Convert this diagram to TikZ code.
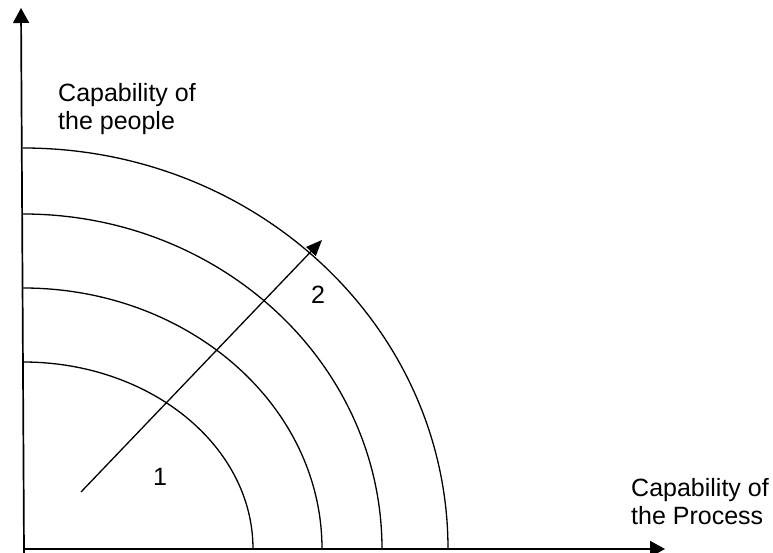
\documentclass[tikz,border=0pt]{standalone}
\usepackage{fontspec}
\setmainfont{Liberation Sans}
\usetikzlibrary{arrows.meta}
\begin{document}
\begin{tikzpicture}[x=1pt,y=1pt,
  axis/.style={line width=1.7pt,-{Triangle[length=15pt,width=16pt]}},
  ring/.style={line width=1.3pt},
  growth/.style={line width=1.3pt,-{Triangle[length=16pt,width=13pt]}},
  lbl/.style={font={\fontsize{25}{28}\selectfont},inner sep=0pt,align=left,anchor=base west},
  num/.style={font={\fontsize{25}{28}\selectfont},inner sep=0pt}]
\useasboundingbox (0,0) rectangle (773,553);
\fill[white] (0,0) rectangle (773,553);
% axes
\coordinate (ybot) at (24,0);
\coordinate (ytop) at (21,545);
\coordinate (xl) at (24,4);
\coordinate (xr) at (665,4);
\draw[axis] (ybot) -- (ytop);
\draw[axis] (xl) -- (xr);
% rings (quarter ellipses)
\coordinate (O) at (23,4);
\draw[ring] (23,191) arc[start angle=90,end angle=0,x radius=230,y radius=187];
\draw[ring] (23,265) arc[start angle=90,end angle=0,x radius=299,y radius=261];
\draw[ring] (23,339) arc[start angle=90,end angle=0,x radius=359,y radius=335];
\draw[ring] (23,405) arc[start angle=90,end angle=0,x radius=425,y radius=401];
% growth arrow
\coordinate (gs) at (81,61);
\coordinate (ge) at (322,313);
\draw[growth] (gs) -- (ge);
% labels (base anchor = baseline of the last line)
\node[lbl] (people) at (58,423) {Capability of\\the people};
\node[lbl] (process) at (631,28) {Capability of\\the Process};
\node[num] (one) at (160,76) {1};
\node[num] (two) at (318,258) {2};
\end{tikzpicture}
\end{document}
